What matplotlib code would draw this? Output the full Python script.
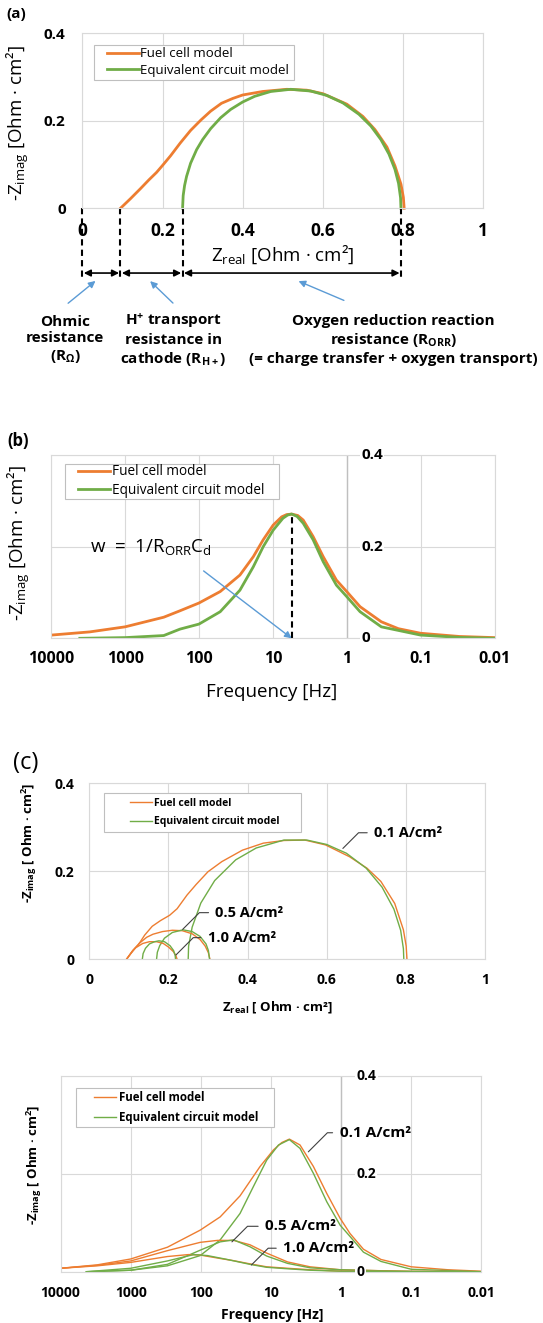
import matplotlib.pyplot as plt
from matplotlib.patches import Rectangle
from matplotlib.ticker import NullLocator, NullFormatter

plt.rcParams['font.family'] = ['Open Sans', 'DejaVu Sans']
plt.rcParams['mathtext.fontset'] = 'custom'
plt.rcParams['mathtext.rm'] = 'Open Sans'
plt.rcParams['mathtext.it'] = 'Open Sans:italic'
plt.rcParams['mathtext.bf'] = 'Open Sans:bold'
plt.rcParams['mathtext.default'] = 'regular'

# ---- (a) Nyquist, 0.1 A/cm2 ----
a_fc_zre = [0.095, 0.12, 0.145, 0.166, 0.185, 0.2, 0.22, 0.244, 0.27, 0.296, 0.32, 0.347,
            0.375, 0.4, 0.45, 0.51, 0.56, 0.6, 0.66, 0.7, 0.73, 0.76, 0.78, 0.795, 0.801, 0.803]
a_fc_zim = [0.0, 0.022, 0.045, 0.065, 0.082, 0.098, 0.12, 0.149, 0.178, 0.202, 0.222, 0.24,
            0.251, 0.259, 0.267, 0.272, 0.27, 0.262, 0.238, 0.21, 0.18, 0.14, 0.097, 0.055, 0.025, 0.0]
a_ec_zre = [0.25, 0.2515, 0.255, 0.26, 0.27, 0.285, 0.3, 0.32, 0.345, 0.37, 0.4, 0.43, 0.47,
            0.52, 0.57, 0.61, 0.65, 0.69, 0.72, 0.745, 0.765, 0.78, 0.789, 0.794, 0.795]
a_ec_zim = [0.0, 0.029, 0.052, 0.073, 0.103, 0.134, 0.157, 0.182, 0.207, 0.226, 0.243, 0.256,
            0.267, 0.272, 0.268, 0.258, 0.241, 0.215, 0.188, 0.157, 0.124, 0.089, 0.057, 0.024, 0.0]
a_bounds = [0.0, 0.095, 0.25, 0.795]

# ---- (b) Bode, 0.1 A/cm2 ----
b_fc_freq = [10000, 3000, 1000, 300, 181, 100, 51.6, 27.9, 18.4, 13.5, 9.9, 7.6, 6.5, 5.57,
             4.6, 3.88, 2.85, 2.08, 1.38, 1.0, 0.66, 0.34, 0.2, 0.1, 0.03, 0.01]
b_fc_zim = [0.007, 0.014, 0.025, 0.046, 0.06, 0.077, 0.102, 0.138, 0.178, 0.215, 0.247, 0.265,
            0.27, 0.271, 0.268, 0.258, 0.222, 0.178, 0.127, 0.102, 0.069, 0.036, 0.021, 0.011,
            0.004, 0.0015]
b_ec_freq = [4100, 1000, 300, 181, 100, 51.6, 27.9, 18.4, 13.5, 9.9, 7.3, 6.3, 5.57, 4.7, 3.88,
             2.85, 2.08, 1.38, 1.0, 0.66, 0.34, 0.1, 0.03, 0.01]
b_ec_zim = [0.0, 0.0015, 0.006, 0.02, 0.031, 0.058, 0.105, 0.156, 0.2, 0.236, 0.262, 0.269,
            0.2712, 0.266, 0.251, 0.215, 0.167, 0.116, 0.091, 0.058, 0.025, 0.007, 0.002, 0.0]

# ---- (c) Nyquist, three current densities ----
c_fc01_zre = [0.094, 0.11, 0.124, 0.14, 0.159, 0.18, 0.203, 0.222, 0.247, 0.27, 0.3, 0.335,
              0.387, 0.44, 0.492, 0.545, 0.597, 0.658, 0.702, 0.737, 0.772, 0.794, 0.801, 0.803]
c_fc01_zim = [0.0, 0.02, 0.033, 0.055, 0.075, 0.088, 0.1, 0.115, 0.146, 0.17, 0.199, 0.222,
              0.248, 0.264, 0.27, 0.271, 0.26, 0.233, 0.207, 0.177, 0.127, 0.067, 0.03, 0.0]
c_ec01_zre = [0.25, 0.251, 0.26, 0.282, 0.317, 0.37, 0.422, 0.492, 0.55, 0.6, 0.65, 0.7, 0.74,
              0.77, 0.787, 0.794, 0.795]
c_ec01_zim = [0.0, 0.03, 0.073, 0.128, 0.179, 0.226, 0.253, 0.271, 0.271, 0.261, 0.241, 0.207,
              0.164, 0.114, 0.066, 0.024, 0.0]
c_fc05_zre = [0.094, 0.11, 0.126, 0.145, 0.161, 0.185, 0.21, 0.235, 0.26, 0.28, 0.293, 0.301, 0.305]
c_fc05_zim = [0.0, 0.02, 0.036, 0.05, 0.057, 0.063, 0.066, 0.065, 0.058, 0.045, 0.03, 0.015, 0.0]
c_ec05_zre = [0.17, 0.172, 0.178, 0.19, 0.21, 0.237, 0.26, 0.28, 0.295, 0.301, 0.304]
c_ec05_zim = [0.0, 0.016, 0.031, 0.048, 0.061, 0.067, 0.063, 0.052, 0.035, 0.02, 0.0]
c_fc10_zre = [0.094, 0.105, 0.117, 0.135, 0.152, 0.17, 0.187, 0.2, 0.213, 0.219, 0.222]
c_fc10_zim = [0.0, 0.013, 0.026, 0.036, 0.04, 0.04, 0.036, 0.028, 0.017, 0.008, 0.0]
c_ec10_zre = [0.134, 0.136, 0.142, 0.152, 0.165, 0.176, 0.19, 0.204, 0.213, 0.217, 0.218]
c_ec10_zim = [0.0, 0.013, 0.025, 0.035, 0.04, 0.042, 0.04, 0.031, 0.02, 0.009, 0.0]

# ---- (d) Bode, three current densities ----
d_fc01_freq = [10000, 3000, 1000, 300, 102, 53, 27.6, 14.3, 9.2, 7.0, 5.46, 3.85, 2.48, 1.6,
               1.03, 0.745, 0.48, 0.27, 0.1, 0.03, 0.01]
d_fc01_zim = [0.007, 0.014, 0.026, 0.05, 0.085, 0.112, 0.155, 0.215, 0.249, 0.264, 0.271, 0.259,
              0.215, 0.16, 0.109, 0.078, 0.046, 0.025, 0.01, 0.004, 0.001]
d_ec01_freq = [3800, 1000, 300, 102, 53, 27.6, 17.8, 11.5, 7.8, 5.46, 3.85, 2.48, 1.6, 1.03,
               0.745, 0.48, 0.27, 0.1, 0.01]
d_ec01_zim = [0.0, 0.003, 0.012, 0.033, 0.065, 0.119, 0.174, 0.228, 0.259, 0.27, 0.252, 0.201,
              0.143, 0.095, 0.072, 0.04, 0.021, 0.005, 0.0]
d_fc05_freq = [10000, 3000, 1000, 300, 102, 58, 34, 19.9, 11.5, 5.8, 2.77, 1.03, 0.1, 0.01]
d_fc05_zim = [0.007, 0.013, 0.022, 0.043, 0.06, 0.064, 0.064, 0.055, 0.038, 0.02, 0.01, 0.004,
              0.0005, 0.0]
d_ec05_freq = [4300, 1000, 300, 102, 53, 34, 19.9, 11.5, 5.8, 2.77, 1.03, 0.1, 0.01]
d_ec05_zim = [0.0, 0.003, 0.015, 0.044, 0.061, 0.065, 0.051, 0.032, 0.017, 0.008, 0.004, 0.0003, 0.0]
d_fc10_freq = [10000, 3000, 1000, 300, 150, 102, 53, 34, 19.9, 11.5, 5.8, 2.77, 1, 0.01]
d_fc10_zim = [0.007, 0.012, 0.019, 0.031, 0.035, 0.034, 0.027, 0.0225, 0.016, 0.01, 0.007,
              0.004, 0.001, 0.0]
d_ec10_freq = [4300, 1000, 300, 126, 81, 42, 19.9, 11.5, 5.8, 2.77, 1, 0.01]
d_ec10_zim = [0.0, 0.007, 0.022, 0.035, 0.033, 0.025, 0.015, 0.009, 0.006, 0.003, 0.001, 0.0]

freq_ticks = [10000, 1000, 100, 10, 1, 0.1, 0.01]
freq_labels = ['10000', '1000', '100', '10', '1', '0.1', '0.01']
freq_cross = 1  # value axis crosses the frequency axis at 1 Hz
zre_ticks = [0, 0.2, 0.4, 0.6, 0.8, 1]
zre_labels = ['0', '0.2', '0.4', '0.6', '0.8', '1']
zim_ticks = [0, 0.2, 0.4]
zim_labels = ['0', '0.2', '0.4']

ORANGE = '#ED7D31'
GREEN = '#70AD47'
GRID = '#D9D9D9'
BLUE = '#5B9BD5'

W, H = 543, 1323
fig = plt.figure(figsize=(W / 100, H / 100), dpi=100)


def box(x0, y0, x1, y1):
    return [x0 / W, 1 - y1 / H, (x1 - x0) / W, (y1 - y0) / H]


def style(ax):
    for s in ax.spines.values():
        s.set_color(GRID)
        s.set_linewidth(0.8)
    ax.grid(True, color=GRID, lw=0.8)
    ax.set_axisbelow(True)
    ax.tick_params(which='both', length=0)


def legend(ax, frame, hx, hlen, tx, rows, size, weight, lw):
    # frame drawn separately so the padding can match the Excel legend box
    x0, y0, x1, y1 = frame
    ax.add_patch(Rectangle((x0 / W, 1 - y1 / H), (x1 - x0) / W, (y1 - y0) / H,
                           transform=fig.transFigure, fc='white', ec='#BFBFBF', lw=0.8,
                           clip_on=False, zorder=4))
    fs = size * 100 / 72
    leg = ax.legend(loc='center left', bbox_to_anchor=(hx / W, 1 - (rows[0] + rows[1]) / 2 / H),
                    bbox_transform=fig.transFigure, frameon=False, borderpad=0,
                    borderaxespad=0, handlelength=hlen / fs,
                    handletextpad=(tx - hx - hlen) / fs,
                    labelspacing=(rows[1] - rows[0]) / fs - 1.05,
                    prop={'weight': weight, 'size': size})
    leg.set_zorder(5)
    for l in leg.get_lines():
        l.set_linewidth(lw)


def freq_axis(ax, ysize, xsize, pad):
    ax.set_xscale('log')
    ax.set_xlim(10000, 0.01)
    ax.set_ylim(0, 0.4)
    ax.xaxis.set_minor_locator(NullLocator())
    ax.xaxis.set_minor_formatter(NullFormatter())
    ax.set_xticks(freq_ticks, freq_labels, fontsize=xsize, fontweight='bold')
    ax.set_yticks(zim_ticks)
    ax.tick_params(axis='y', labelleft=False, labelright=False)
    # vertical value axis at 1 Hz, labels on its right like Excel
    ax.axvline(freq_cross, color='#BFBFBF', lw=1, zorder=1)
    for v, s in zip(zim_ticks, zim_labels):
        ax.annotate(s, xy=(freq_cross, v), xytext=(pad, 0), textcoords='offset points',
                    ha='left', va='center', fontsize=ysize, fontweight='bold', color='black',
                    bbox=dict(fc='white', ec='none', pad=1), zorder=3,
                    annotation_clip=False)


def leader(ax, text, xy, txy, size):
    ax.annotate(text, xy=xy, xycoords='data', xytext=txy, textcoords='axes fraction',
                fontsize=size, fontweight='bold', ha='left', va='center',
                arrowprops=dict(arrowstyle='-', color='#404040', lw=0.8, shrinkA=3, shrinkB=0,
                                relpos=(0, 0.5),
                                connectionstyle='angle,angleA=0,angleB=45,rad=0'))


# ================= (a) =================
ax = fig.add_axes(box(82.4, 33.3, 483.1, 208.3))
style(ax)
ax.plot(a_fc_zre, a_fc_zim, color=ORANGE, lw=2, label='Fuel cell model', clip_on=False)
ax.plot(a_ec_zre, a_ec_zim, color=GREEN, lw=2, label='Equivalent circuit model', clip_on=False)
ax.set_xlim(0, 1)
ax.set_ylim(0, 0.4)
ax.set_xticks(zre_ticks, zre_labels, fontsize=12.5, fontweight='bold')
ax.set_yticks(zim_ticks, zim_labels, fontsize=11, fontweight='bold')
ax.tick_params(axis='x', pad=10)
ax.tick_params(axis='y', pad=12)
ax.set_xlabel('Z$_{real}$ [Ohm · cm²]', fontsize=13.5, va='center')
ax.xaxis.set_label_coords(0.5, -0.267)
ax.set_ylabel('-Z$_{imag}$ [Ohm · cm²]', fontsize=13.5, va='center')
ax.yaxis.set_label_coords(-0.161, 0.486)
legend(ax, (93.5, 45, 294.3, 80), 107.3, 31.2, 140.2, (53.3, 71), 9.5, 'normal', 2)

for xv in a_bounds:
    ax.plot([xv, xv], [0, -0.165], color='k', lw=1.5, ls=(0, (3, 2)), clip_on=False)
for x0, x1 in zip(a_bounds[:-1], a_bounds[1:]):
    ax.annotate('', xy=(x1, -0.148), xytext=(x0, -0.148), annotation_clip=False,
                arrowprops=dict(arrowstyle='<|-|>', color='k', lw=1.2, mutation_scale=10,
                                shrinkA=1, shrinkB=1))

ax.annotate('', xy=(0.038, -0.162), xytext=(-0.041, -0.221), annotation_clip=False,
            arrowprops=dict(arrowstyle='-|>', color=BLUE, lw=1, mutation_scale=10))
ax.annotate('', xy=(0.164, -0.162), xytext=(0.231, -0.221), annotation_clip=False,
            arrowprops=dict(arrowstyle='-|>', color=BLUE, lw=1, mutation_scale=10))
ax.annotate('', xy=(0.533, -0.164), xytext=(0.659, -0.213), annotation_clip=False,
            arrowprops=dict(arrowstyle='-|>', color=BLUE, lw=1, mutation_scale=10))

txt = dict(ha='center', va='center', fontsize=11, fontweight='bold', linespacing=1.25,
           clip_on=False)
ax.text(-0.043, -0.301, 'Ohmic\nresistance\n(R$_\\Omega$)', **txt)
ax.text(0.227, -0.301, 'H$^{+}$ transport\nresistance in\ncathode (R$_{H+}$)', **txt)
ax.text(0.776, -0.301, 'Oxygen reduction reaction\nresistance (R$_{ORR}$)\n'
        '(= charge transfer + oxygen transport)', **txt)
fig.text(16.6 / W, 1 - 14 / H, '(a)', fontsize=11, fontweight='bold', ha='center', va='center')

# ================= (b) =================
axb = fig.add_axes(box(51.2, 455, 494.5, 638.3))
style(axb)
axb.plot(b_fc_freq, b_fc_zim, color=ORANGE, lw=2, label='Fuel cell model')
axb.plot(b_ec_freq, b_ec_zim, color=GREEN, lw=2, label='Equivalent circuit model')
freq_axis(axb, 11, 11.5, 10.5)
axb.tick_params(axis='x', pad=9)
axb.set_xlabel('Frequency [Hz]', fontsize=13.5, va='center')
axb.xaxis.set_label_coords(0.498, -0.293)
axb.set_ylabel('-Z$_{imag}$ [Ohm · cm²]', fontsize=13.5, va='center')
axb.yaxis.set_label_coords(-0.073, 0.518)
legend(axb, (64.8, 464.3, 279.4, 499), 77.9, 32.2, 112.5, (472.3, 490), 9.8, 'normal', 2)

i_peak = b_ec_zim.index(max(b_ec_zim))
axb.plot([b_ec_freq[i_peak]] * 2, [0, b_ec_zim[i_peak]], color='k', lw=1.5, ls=(0, (3, 2)))
axb.text(0.088, 0.5, 'w  =  1/R$_{ORR}$C$_d$', transform=axb.transAxes, fontsize=13.5,
         va='center', ha='left')
axb.annotate('', xy=(b_ec_freq[i_peak], 0.0), xytext=(86.5, 0.147),
             arrowprops=dict(arrowstyle='-|>', color=BLUE, lw=1, mutation_scale=10,
                             shrinkA=0, shrinkB=0))
fig.text(17.7 / W, 1 - 441 / H, '(b)', fontsize=12, fontweight='bold', ha='center', va='center')

# ================= (c) =================
axc = fig.add_axes(box(89.3, 783.3, 484.9, 959.3))
style(axc)
axc.plot(c_fc01_zre, c_fc01_zim, color=ORANGE, lw=1, label='Fuel cell model')
axc.plot(c_ec01_zre, c_ec01_zim, color=GREEN, lw=1, label='Equivalent circuit model')
axc.plot(c_fc05_zre, c_fc05_zim, color=ORANGE, lw=1)
axc.plot(c_ec05_zre, c_ec05_zim, color=GREEN, lw=1)
axc.plot(c_fc10_zre, c_fc10_zim, color=ORANGE, lw=1)
axc.plot(c_ec10_zre, c_ec10_zim, color=GREEN, lw=1)
axc.set_xlim(0, 1)
axc.set_ylim(0, 0.4)
axc.set_xticks(zre_ticks, zre_labels, fontsize=10, fontweight='bold')
axc.set_yticks(zim_ticks, zim_labels, fontsize=10, fontweight='bold')
axc.tick_params(axis='x', pad=10)
axc.tick_params(axis='y', pad=11)
axc.set_xlabel('Z$_{real}$ [ Ohm · cm²]', fontsize=9.5, fontweight='bold', va='center')
axc.xaxis.set_label_coords(0.475, -0.269)
axc.set_ylabel('-Z$_{imag}$ [ Ohm · cm$^{2}$]', fontsize=9.5, fontweight='bold', va='center')
axc.yaxis.set_label_coords(-0.152, 0.66)
legend(axc, (103.9, 792.7, 301.3, 831.7), 129.9, 22.5, 154.1, (803.3, 821.7), 7.5, 'bold', 1)
leader(axc, '0.1 A/cm²', (0.641, 0.252), (0.72, 0.719), 10.5)
leader(axc, '0.5 A/cm²', (0.236, 0.068), (0.319, 0.265), 10.5)
leader(axc, '1.0 A/cm²', (0.219, 0.0098), (0.2995, 0.123), 10.5)
fig.text(26 / W, 1 - 763 / H, '(c)', fontsize=17, ha='center', va='center')

# ================= (d) =================
axd = fig.add_axes(box(60.6, 1076, 481.3, 1271.7))
style(axd)
axd.plot(d_fc01_freq, d_fc01_zim, color=ORANGE, lw=1, label='Fuel cell model')
axd.plot(d_ec01_freq, d_ec01_zim, color=GREEN, lw=1, label='Equivalent circuit model')
axd.plot(d_fc05_freq, d_fc05_zim, color=ORANGE, lw=1)
axd.plot(d_ec05_freq, d_ec05_zim, color=GREEN, lw=1)
axd.plot(d_fc10_freq, d_fc10_zim, color=ORANGE, lw=1)
axd.plot(d_ec10_freq, d_ec10_zim, color=GREEN, lw=1)
freq_axis(axd, 10, 10, 11)
axd.tick_params(axis='x', pad=10)
axd.set_xlabel('Frequency [Hz]', fontsize=10, fontweight='bold', va='center')
axd.xaxis.set_label_coords(0.502, -0.221)
axd.set_ylabel('-Z$_{imag}$ [ Ohm · cm$^{2}$]', fontsize=9.5, fontweight='bold', va='center')
axd.yaxis.set_label_coords(-0.0625, 0.545)
legend(axd, (75.5, 1088.3, 273.6, 1127.3), 93.5, 22.5, 118.8, (1098.3, 1117.3), 8.3, 'bold', 1)
leader(axd, '0.1 A/cm²', (2.93, 0.245), (0.663, 0.710), 11)
leader(axd, '0.5 A/cm²', (36, 0.061), (0.486, 0.232), 11)
leader(axd, '1.0 A/cm²', (19, 0.0137), (0.529, 0.120), 11)

fig.savefig('out.png', dpi=100)
